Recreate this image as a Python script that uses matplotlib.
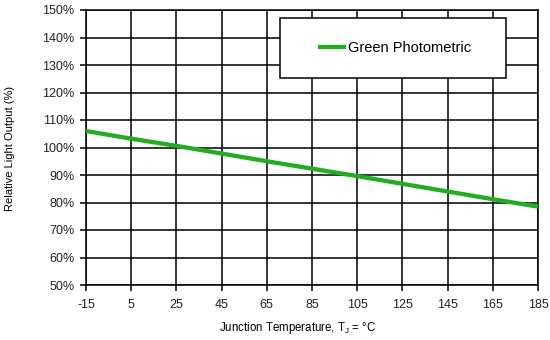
import matplotlib
matplotlib.use("Agg")
import matplotlib.pyplot as plt
from matplotlib.patches import Rectangle
from matplotlib.ticker import FuncFormatter

temps = [-15, 5, 25, 45, 65, 85, 105, 125, 145, 165, 185]
output_pct = [106.0, 103.2, 100.6, 97.8, 95.0, 92.3, 89.6, 86.8, 84.0, 81.2, 78.5]
y_ticks = [50, 60, 70, 80, 90, 100, 110, 120, 130, 140, 150]

plt.rcParams['font.family'] = ['Liberation Sans', 'DejaVu Sans']
plt.rcParams['axes.unicode_minus'] = False

W, H = 550, 340
fig = plt.figure(figsize=(W / 100, H / 100), dpi=100)
L, R, T, B = 86, 538, 10, 285
ax = fig.add_axes([L / W, 1 - B / H, (R - L) / W, (B - T) / H])

def ax_xy(px, py):
    """Pixel position in the figure -> axes fraction."""
    return (px - L) / (R - L), (B - py) / (B - T)

ax.plot(temps, output_pct, color='#22ad22', lw=3.1, solid_capstyle='butt',
        label='Green Photometric', zorder=3)

ax.set_xlim(temps[0], temps[-1])
ax.set_ylim(y_ticks[0], y_ticks[-1])
ax.set_xticks(temps)
ax.set_yticks(y_ticks)
ax.yaxis.set_major_formatter(FuncFormatter(lambda v, p: f"{int(v)}%"))
ax.grid(True, color='black', lw=1.1)
ax.set_axisbelow(True)
for s in ax.spines.values():
    s.set_color('black')
    s.set_linewidth(1.1)
ax.tick_params(direction='out', length=4.3, width=1.1, color='black',
               labelsize=9, labelcolor='#222222')
ax.tick_params(axis='x', pad=6)
ax.tick_params(axis='y', pad=4)

ax.set_xlabel(r'Junction Temperature, T$_\mathregular{J}$ = °C', fontsize=8.3)
ax.xaxis.set_label_coords(*ax_xy(298, 328))
ax.xaxis.label.set_va('center')
ax.set_ylabel('Relative Light Output (%)', fontsize=8)
ax.yaxis.set_label_coords(*ax_xy(10, 148))
ax.yaxis.label.set_va('center')

# legend box
x0, y0 = ax_xy(280, 78)
x1, y1 = ax_xy(506, 18)
ax.add_patch(Rectangle((x0, y0), x1 - x0, y1 - y0, transform=ax.transAxes,
                       facecolor='white', edgecolor='black', lw=1.1, zorder=4.5))
leg = ax.legend(loc='center left', bbox_to_anchor=ax_xy(318, 48), frameon=False,
                borderaxespad=0, borderpad=0, fontsize=10.5, handlelength=1.92,
                handletextpad=0.15)
leg.set_zorder(5)

fig.savefig('out.png', dpi=100)
